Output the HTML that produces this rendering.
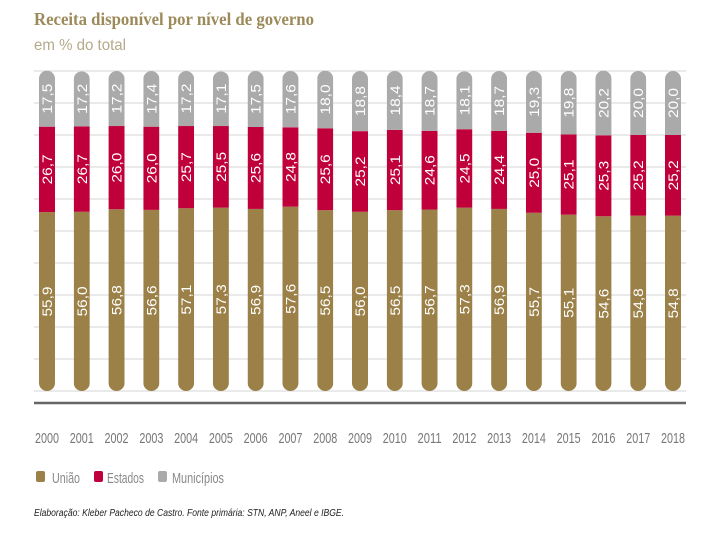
<!DOCTYPE html>
<html><head><meta charset="utf-8"><style>
body{margin:0;background:#fff;width:720px;height:540px;overflow:hidden}
svg{display:block}
</style></head><body>
<svg id="c" width="720" height="540">
<text x="34" y="25" font-family="Liberation Serif, serif" font-weight="bold" font-size="18" fill="#9c8a5a" textLength="280" lengthAdjust="spacingAndGlyphs">Receita disponível por nível de governo</text>
<text x="34" y="50" font-family="Liberation Sans, sans-serif" font-size="16" fill="#b5a98a" textLength="92" lengthAdjust="spacingAndGlyphs">em % do total</text>
<g id="grid"></g>
<g id="bars"></g>
<line x1="34" x2="686" y1="403" y2="403" stroke="#666" stroke-width="2.5"/>
<g id="xl"></g>
<g>
<rect x="36" y="471" width="9" height="11" rx="2" fill="#9b8048"/>
<text x="52" y="483" font-family="Liberation Sans, sans-serif" font-size="15" fill="#888" textLength="28" lengthAdjust="spacingAndGlyphs">União</text>
<rect x="94" y="471" width="9" height="11" rx="2" fill="#c0003a"/>
<text x="107" y="483" font-family="Liberation Sans, sans-serif" font-size="15" fill="#888" textLength="37" lengthAdjust="spacingAndGlyphs">Estados</text>
<rect x="158" y="471" width="9" height="11" rx="2" fill="#aaa"/>
<text x="172" y="483" font-family="Liberation Sans, sans-serif" font-size="15" fill="#888" textLength="52" lengthAdjust="spacingAndGlyphs">Municípios</text>
</g>
<text x="34" y="516" font-family="Liberation Sans, sans-serif" font-style="italic" font-size="10" fill="#222" textLength="310" lengthAdjust="spacingAndGlyphs">Elaboração: Kleber Pacheco de Castro. Fonte primária: STN, ANP, Aneel e IBGE.</text>
</svg>
<script>
const years=["2000","2001","2002","2003","2004","2005","2006","2007","2008","2009","2010","2011","2012","2013","2014","2015","2016","2017","2018"];
const uniao=[55.9,56.0,56.8,56.6,57.1,57.3,56.9,57.6,56.5,56.0,56.5,56.7,57.3,56.9,55.7,55.1,54.6,54.8,54.8];
const estados=[26.7,26.7,26.0,26.0,25.7,25.5,25.6,24.8,25.6,25.2,25.1,24.6,24.5,24.4,25.0,25.1,25.3,25.2,25.2];
const municipios=[17.5,17.2,17.2,17.4,17.2,17.1,17.5,17.6,18.0,18.8,18.4,18.7,18.1,18.7,19.3,19.8,20.2,20.0,20.0];
const gridTicks=[0,10,20,30,40,50,60,70,80,90,100];
const NS="http://www.w3.org/2000/svg";
const y0=391,ppu=3.2,bw=16;
const yS=v=>y0-v*ppu;
const xS=i=>47+i*(673-47)/(years.length-1);
function mk(t,a,p){const e=document.createElementNS(NS,t);for(const k in a)e.setAttribute(k,a[k]);p.appendChild(e);return e;}
const grid=document.getElementById('grid');
gridTicks.forEach(t=>{const l=mk('line',{x1:34,x2:686,y1:yS(t),y2:yS(t),stroke:'#e4e4e4','stroke-width':1.5},grid);

});
const bars=document.getElementById('bars'),xl=document.getElementById('xl');
const defs=mk('defs',{},bars);
years.forEach((yr,i)=>{
 const cx=xS(i),total=uniao[i]+estados[i]+municipios[i];
 const cp=mk('clipPath',{id:'cp'+i},defs);
 mk('rect',{x:cx-bw/2,y:yS(total),width:bw,height:total*ppu,rx:8,ry:8},cp);
 const g=mk('g',{'clip-path':'url(#cp'+i+')'},bars);
 
 
 let base=0;
 [[uniao,'#9b8048','uniao'],[estados,'#c0003a','estados'],[municipios,'#aaa','municipios']].forEach(([arr,col,nm])=>{
  const v=arr[i];
  const r=mk('rect',{x:cx-bw/2,y:yS(base+v),width:bw,height:v*ppu,fill:col},g);
  
  
  const my=yS(base+v/2);
  const t=mk('text',{x:0,y:0,transform:`translate(${cx+5},${my}) rotate(-90)`,'text-anchor':'middle','font-family':'Liberation Sans, sans-serif','font-size':14,fill:'#fff',textLength:30,lengthAdjust:'spacingAndGlyphs'},bars);
  t.textContent=v.toFixed(1).replace('.',',');
  
  
  base+=v;
 });
 const yl=mk('text',{x:cx,y:443,'text-anchor':'middle','font-family':'Liberation Sans, sans-serif','font-size':15,fill:'#777',textLength:24,lengthAdjust:'spacingAndGlyphs'},xl);
 yl.textContent=yr;
 
 
});
</script>
</body></html>
